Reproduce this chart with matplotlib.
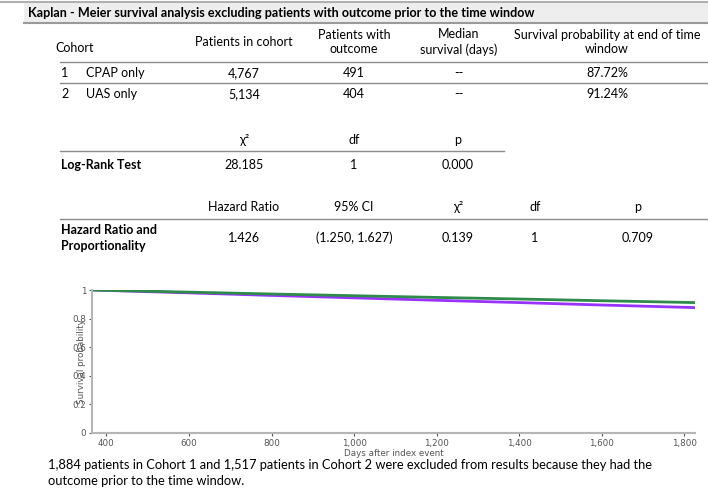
import numpy as np
import matplotlib.pyplot as plt
from matplotlib.ticker import FuncFormatter

# table data
title = "Kaplan - Meier survival analysis excluding patients with outcome prior to the time window"
cohort_cols = ["Cohort", "Patients in cohort", "Patients with\noutcome",
               "Median\nsurvival (days)", "Survival probability at end of time\nwindow"]
cohort_ids = ["1", "2"]
cohort_names = ["CPAP only", "UAS only"]
cohort_n = ["4,767", "5,134"]
cohort_events = ["491", "404"]
cohort_median = ["--", "--"]
cohort_surv = ["87.72%", "91.24%"]

logrank_cols = ["χ²", "df", "p"]
logrank_vals = ["28.185", "1", "0.000"]

hr_cols = ["Hazard Ratio", "95% CI", "χ²", "df", "p"]
hr_vals = ["1.426", "(1.250, 1.627)", "0.139", "1", "0.709"]

footnote = ("1,884 patients in Cohort 1 and 1,517 patients in Cohort 2 were excluded from results because they had the\n"
            "outcome prior to the time window.")

# survival curves
days = [365, 600, 800, 1000, 1200, 1400, 1600, 1826]
surv_cpap = [1.0, 0.980, 0.962, 0.945, 0.928, 0.912, 0.895, 0.877]
surv_uas = [1.0, 0.985, 0.972, 0.960, 0.948, 0.937, 0.925, 0.912]

W, H = 708, 497
fig = plt.figure(figsize=(W / 100, H / 100), dpi=100)
plt.rcParams['font.family'] = ['Lato', 'DejaVu Sans']

# page layer in pixel coordinates
bg = fig.add_axes([0, 0, 1, 1])
bg.set_xlim(0, W)
bg.set_ylim(H, 0)
bg.axis('off')

fs = 9
line_c = '#8c8c8c'

# header band
bg.plot([0, W], [2, 2], color='#b0b0b0', lw=1.5)
bg.add_patch(plt.Rectangle((24, 3), W - 24, 20, color='#eeeeee', lw=0))
bg.plot([24, W], [23, 23], color='#9a9a9a', lw=1.5)
bg.text(28, 13, title, fontsize=9.1, fontweight='bold', va='center', ha='left')

# cohort table
col_x = [55, 244, 354, 459, 607]
for i, c in enumerate(cohort_cols):
    if i == 0:
        bg.text(col_x[i], 48, c, fontsize=fs, va='center', ha='left')
    else:
        bg.text(col_x[i], 42, c, fontsize=fs, va='center', ha='center', linespacing=1.25)
bg.plot([60, W], [61.5, 61.5], color=line_c, lw=1)
bg.plot([60, W], [82.5, 82.5], color=line_c, lw=1)
row_y = [73, 94]
for r in range(2):
    y = row_y[r]
    bg.text(61, y, cohort_ids[r], fontsize=fs, va='center', ha='left')
    bg.text(86, y, cohort_names[r], fontsize=fs, va='center', ha='left')
    bg.text(col_x[1], y, cohort_n[r], fontsize=fs, va='center', ha='center')
    bg.text(col_x[2], y, cohort_events[r], fontsize=fs, va='center', ha='center')
    bg.text(col_x[3], y, cohort_median[r], fontsize=fs, va='center', ha='center')
    bg.text(col_x[4], y, cohort_surv[r], fontsize=fs, va='center', ha='center')

# log-rank test
lr_x = [244, 354, 458]
for x, c, v in zip(lr_x, logrank_cols, logrank_vals):
    bg.text(x, 140, c, fontsize=fs, va='center', ha='center')
    bg.text(x, 165, v, fontsize=fs, va='center', ha='center')
bg.plot([60, 504], [150.5, 150.5], color=line_c, lw=1)
bg.text(61, 165, "Log-Rank Test", fontsize=fs, fontweight='bold', va='center', ha='left')

# hazard ratio
hr_x = [244, 354, 458, 535, 638]
for x, c, v in zip(hr_x, hr_cols, hr_vals):
    bg.text(x, 207, c, fontsize=fs, va='center', ha='center')
    bg.text(x, 238, v, fontsize=fs, va='center', ha='center')
bg.plot([60, W], [218.5, 218.5], color=line_c, lw=1)
bg.text(61, 238, "Hazard Ratio and\nProportionality", fontsize=fs, fontweight='bold',
        va='center', ha='left', linespacing=1.3)

# footnote
bg.text(48, 473, footnote, fontsize=9.3, va='center', ha='left', linespacing=1.45)

# survival plot
ax = fig.add_axes([92 / W, 1 - 433 / H, (695 - 92) / W, (433 - 290) / H])
ax.plot(days, surv_cpap, color='#9933ff', lw=2)
ax.plot(days, surv_uas, color='#2e8b4a', lw=2)
ax.set_xlim(365, 1826)
ax.set_ylim(0, 1)
ax.set_xticks([400, 600, 800, 1000, 1200, 1400, 1600, 1800])
ax.set_yticks([0, 0.2, 0.4, 0.6, 0.8, 1])
ax.xaxis.set_major_formatter(FuncFormatter(lambda v, p: f"{int(v):,}"))
ax.yaxis.set_major_formatter(FuncFormatter(lambda v, p: "0" if v == 0 else ("1" if v == 1 else f"{v:.1f}")))
for s in ['top', 'right']:
    ax.spines[s].set_visible(False)
for s in ['left', 'bottom']:
    ax.spines[s].set_color('#b5b5b5')
    ax.spines[s].set_linewidth(1.5)
ax.tick_params(colors='#555555', labelsize=6.3, length=2.5, width=0.8, pad=1.5)
for lab in ax.get_xticklabels() + ax.get_yticklabels():
    lab.set_family('DejaVu Sans')
ax.set_xlabel("Days after index event", fontsize=6.3, color='#555555', labelpad=1, family='DejaVu Sans')
ax.set_ylabel("Survival probability", fontsize=6.3, color='#555555', labelpad=-10, family='DejaVu Sans')

fig.savefig("out.png", dpi=100)
